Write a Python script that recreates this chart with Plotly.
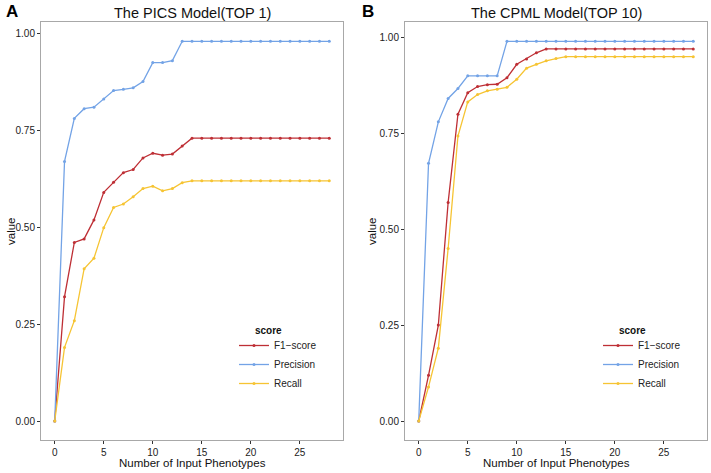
import plotly.graph_objects as go

x_vals = list(range(0, 29))

# Panel A: The PICS Model (TOP 1)
pics_f1 = [0.0, 0.321, 0.461, 0.470, 0.519, 0.590, 0.616, 0.641, 0.649, 0.679, 0.691,
           0.686, 0.689, 0.710, 0.730] + [0.730] * 14
pics_precision = [0.0, 0.670, 0.781, 0.806, 0.810, 0.831, 0.853, 0.856, 0.860, 0.876, 0.925,
                  0.925, 0.930, 0.980, 0.980] + [0.980] * 14
pics_recall = [0.0, 0.190, 0.259, 0.393, 0.420, 0.499, 0.551, 0.560, 0.579, 0.600, 0.606,
               0.594, 0.600, 0.615, 0.620] + [0.620] * 14

# Panel B: The CPML Model (TOP 10)
cpml_f1 = [0.0, 0.119, 0.250, 0.570, 0.800, 0.856, 0.872, 0.877, 0.878, 0.895, 0.930,
           0.944, 0.960, 0.970, 0.970] + [0.970] * 14
cpml_precision = [0.0, 0.672, 0.780, 0.841, 0.867, 0.900, 0.900, 0.900, 0.900, 0.990, 0.990,
                  0.990, 0.990, 0.990, 0.990] + [0.990] * 14
cpml_recall = [0.0, 0.089, 0.190, 0.450, 0.743, 0.832, 0.851, 0.861, 0.865, 0.870, 0.891,
               0.920, 0.930, 0.939, 0.945] + [0.950] * 14

series_names = ["F1\u2212score", "Precision", "Recall"]
colors = ["#BE2F35", "#73A3E6", "#F6C433"]

x_ticks = [0, 5, 10, 15, 20, 25]
y_ticks = [0.0, 0.25, 0.5, 0.75, 1.0]
y_tick_text = ["0.00", "0.25", "0.50", "0.75", "1.00"]

panel_titles = ["The PICS Model(TOP 1)", "The CPML Model(TOP 10)"]
panel_letters = ["A", "B"]
x_title = "Number of Input Phenotypes"
y_title = "value"
legend_title = "score"

FONT = "Liberation Sans, Arial, sans-serif"

W, H = 711, 473


def px(xw):
    return xw / W


def py(yw):
    return (H - yw) / H


fig = go.Figure()

panels = [
    ([pics_f1, pics_precision, pics_recall], "x", "y", "legend"),
    ([cpml_f1, cpml_precision, cpml_recall], "x2", "y2", "legend2"),
]

for data, xa, ya, lg in panels:
    for name, vals, col in zip(series_names, data, colors):
        fig.add_trace(go.Scatter(
            x=x_vals, y=vals, name=name, mode="lines+markers",
            line=dict(color=col, width=1.3),
            marker=dict(color=col, size=3),
            xaxis=xa, yaxis=ya, legend=lg,
        ))

xd1 = [px(41), px(343)]
xd2 = [px(405), px(707)]
yd = [py(440), py(22.3)]

axis_common = dict(
    showgrid=False, zeroline=False, showline=True, mirror=True,
    linecolor="#A8A8A8", linewidth=1, automargin=False,
    ticks="outside", ticklen=3, tickcolor="#333333", tickwidth=1,
    tickfont=dict(family=FONT, size=10, color="#222222"),
)

legend_common = dict(
    yanchor="top", xanchor="left",
    font=dict(family=FONT, size=10, color="#222222"), bgcolor="rgba(0,0,0,0)",
    itemwidth=30, tracegroupgap=0,
)

fig.update_layout(
    width=W, height=H,
    margin=dict(l=0, r=0, t=0, b=0),
    paper_bgcolor="white", plot_bgcolor="white",
    font=dict(family=FONT),
    xaxis=dict(domain=xd1, range=[-1.4, 29.4], tickvals=x_ticks, anchor="y", **axis_common),
    yaxis=dict(domain=yd, range=[-0.049, 1.029], tickvals=y_ticks, ticktext=y_tick_text,
               anchor="x", **axis_common),
    xaxis2=dict(domain=xd2, range=[-1.4, 29.4], tickvals=x_ticks, anchor="y2", **axis_common),
    yaxis2=dict(domain=yd, range=[-0.0495, 1.0395], tickvals=y_ticks, ticktext=y_tick_text,
                anchor="x2", **axis_common),
    legend=dict(x=px(234), y=py(331), **legend_common),
    legend2=dict(x=px(598), y=py(331), **legend_common),
    showlegend=True,
)

for i, (t, letter) in enumerate(zip(panel_titles, panel_letters)):
    xd = xd1 if i == 0 else xd2
    xc = (xd[0] + xd[1]) / 2
    fig.add_annotation(text=t, x=xc, y=py(13), xref="paper", yref="paper",
                       showarrow=False, xanchor="center", yanchor="middle",
                       font=dict(family=FONT, size=14.5, color="#111111"))
    fig.add_annotation(text="<b>" + letter + "</b>", x=px(4 if i == 0 else 360), y=py(11),
                       xref="paper", yref="paper", showarrow=False, xanchor="left", yanchor="middle",
                       font=dict(family=FONT, size=17, color="#000000"))
    fig.add_annotation(text=x_title, x=xc, y=py(463), xref="paper", yref="paper",
                       showarrow=False, xanchor="center", yanchor="middle",
                       font=dict(family=FONT, size=11.5, color="#111111"))
    fig.add_annotation(text=y_title, x=px(11 if i == 0 else 372), y=py(231),
                       xref="paper", yref="paper", showarrow=False, textangle=-90,
                       xanchor="center", yanchor="middle",
                       font=dict(family=FONT, size=11.5, color="#111111"))
    fig.add_annotation(text="<b>" + legend_title + "</b>", x=px(253 if i == 0 else 617),
                       y=py(330), xref="paper", yref="paper", showarrow=False,
                       xanchor="left", yanchor="middle",
                       font=dict(family=FONT, size=10, color="#111111"))

fig.write_html("out.html", config={"displayModeBar": False},
               post_script="document.body.style.margin='0';")
